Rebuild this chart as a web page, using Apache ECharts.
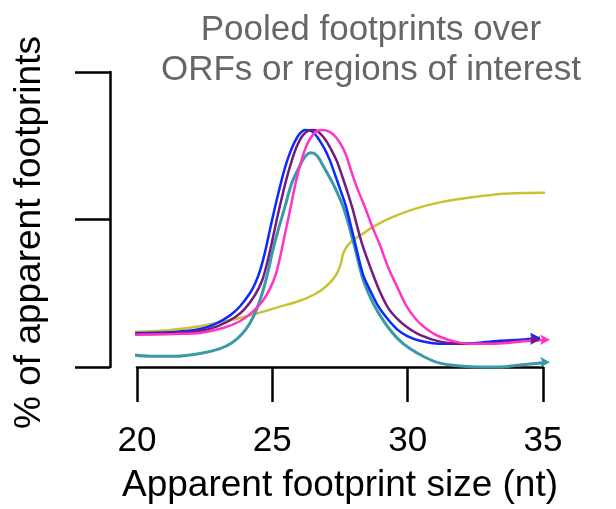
<!DOCTYPE html>
<html>
<head>
<meta charset="utf-8">
<script src="https://cdn.jsdelivr.net/npm/echarts@6/dist/echarts.min.js"></script>
<style>
html,body{margin:0;padding:0;background:#fff;}
#chart{width:616px;height:509px;}
</style>
</head>
<body>
<div id="chart"></div>
<script>
const titleText = "Pooled footprints over\nORFs or regions of interest";
const xAxisName = "Apparent footprint size (nt)";
const yAxisName = "% of apparent footprints";
const xTicks = [20, 25, 30, 35];

const blue = [[19.93,0.231],[21.40,0.238],[22.33,0.257],[22.88,0.290],[23.44,0.350],[23.80,0.410],[24.17,0.500],[24.36,0.565],[24.54,0.650],[24.73,0.779],[24.91,0.930],[25.10,1.085],[25.28,1.221],[25.47,1.353],[25.65,1.452],[25.84,1.531],[26.02,1.584],[26.21,1.607],[26.39,1.604],[26.58,1.578],[26.76,1.531],[26.95,1.472],[27.13,1.399],[27.31,1.307],[27.50,1.208],[27.72,1.089],[28.05,0.845],[28.35,0.627],[28.61,0.521],[28.90,0.416],[29.24,0.330],[29.60,0.257],[29.97,0.211],[30.45,0.178],[31.19,0.158],[31.93,0.158],[32.67,0.165],[33.41,0.178],[34.15,0.185],[34.89,0.198]];
const purple = [[19.93,0.224],[21.40,0.231],[22.33,0.244],[22.99,0.277],[23.62,0.337],[23.99,0.396],[24.36,0.488],[24.62,0.585],[24.80,0.700],[24.99,0.850],[25.17,1.005],[25.36,1.155],[25.54,1.287],[25.73,1.406],[25.91,1.498],[26.10,1.564],[26.28,1.597],[26.46,1.607],[26.65,1.601],[26.83,1.571],[27.02,1.525],[27.20,1.465],[27.39,1.393],[27.57,1.300],[27.76,1.195],[27.94,1.089],[28.31,0.838],[28.72,0.627],[28.98,0.508],[29.27,0.403],[29.60,0.330],[29.97,0.271],[30.45,0.218],[31.19,0.172],[31.93,0.158],[32.67,0.158],[33.41,0.165],[34.15,0.178],[34.89,0.185]];
const pink = [[19.93,0.218],[21.40,0.224],[22.33,0.231],[23.18,0.264],[23.80,0.310],[24.25,0.370],[24.62,0.442],[24.91,0.530],[25.14,0.635],[25.32,0.772],[25.50,0.930],[25.69,1.095],[25.87,1.255],[26.06,1.390],[26.25,1.495],[26.43,1.558],[26.61,1.593],[26.80,1.607],[26.98,1.604],[27.17,1.588],[27.35,1.558],[27.54,1.508],[27.72,1.439],[27.94,1.315],[28.16,1.201],[28.42,1.085],[28.68,0.957],[28.98,0.825],[29.27,0.680],[29.60,0.548],[29.97,0.409],[30.34,0.317],[30.75,0.251],[31.19,0.205],[31.75,0.172],[32.30,0.158],[33.04,0.158],[33.78,0.165],[34.52,0.178],[35.26,0.185]];
const teal = [[19.67,0.086],[20.48,0.073],[21.40,0.073],[22.33,0.092],[23.07,0.125],[23.51,0.165],[23.88,0.224],[24.17,0.297],[24.43,0.396],[24.65,0.515],[24.84,0.647],[25.02,0.792],[25.21,0.924],[25.47,1.089],[25.71,1.243],[26.02,1.366],[26.21,1.426],[26.43,1.452],[26.65,1.432],[26.87,1.366],[27.24,1.243],[27.61,1.089],[27.98,0.858],[28.35,0.595],[28.68,0.449],[28.98,0.350],[29.27,0.271],[29.64,0.191],[30.08,0.125],[30.64,0.066],[31.19,0.026],[31.93,0.007],[32.67,0.000],[33.41,0.000],[34.15,0.013],[35.26,0.033]];
const olive = [[19.93,0.238],[21.22,0.251],[22.33,0.277],[23.44,0.317],[24.43,0.363],[25.28,0.409],[26.02,0.449],[26.58,0.495],[26.95,0.541],[27.24,0.594],[27.42,0.647],[27.54,0.706],[27.61,0.766],[27.76,0.818],[28.01,0.865],[28.35,0.904],[28.72,0.950],[29.35,1.010],[30.20,1.069],[31.19,1.116],[32.04,1.142],[33.52,1.175],[35.15,1.182]];

const FONT = "'Liberation Sans', Arial, Helvetica, sans-serif";

function mkSeries(data, color, width, arrow) {
  const last = data.length - 1;
  return {
    type: 'line',
    data: data,
    smooth: 0.3,
    clip: false,
    showSymbol: arrow,
    symbol: 'arrow',
    symbolRotate: -90,
    symbolSize: function (v, p) { return arrow && p.dataIndex === last ? [8, 10] : 0; },
    itemStyle: { color: color },
    lineStyle: { color: color, width: width },
    emphasis: { disabled: true },
    z: 3
  };
}

const chart = echarts.init(document.getElementById('chart'), null, { renderer: 'canvas' });
chart.setOption({
  animation: false,
  backgroundColor: '#ffffff',
  title: {
    text: titleText,
    left: 371,
    top: 10,
    padding: 0,
    textAlign: 'center',
    textStyle: { fontFamily: FONT, fontSize: 35, fontWeight: 'normal', color: '#666666', lineHeight: 40 }
  },
  grid: { left: 137, right: 73, top: 72, bottom: 134, containLabel: false },
  xAxis: {
    type: 'value',
    min: 20, max: 35, interval: 5,
    name: xAxisName,
    nameLocation: 'middle',
    nameGap: 100,
    nameTextStyle: { fontFamily: FONT, fontSize: 37, color: '#000' },
    axisLine: { show: true, lineStyle: { color: '#000', width: 2.5 } },
    axisTick: { show: true, length: 35, inside: false, lineStyle: { color: '#000', width: 2.5 } },
    axisLabel: { show: true, margin: 57, fontFamily: FONT, fontSize: 35, color: '#000',
      formatter: function (v) { return xTicks.indexOf(v) >= 0 ? String(v) : ''; } },
    splitLine: { show: false }
  },
  yAxis: {
    type: 'value',
    min: 0, max: 2, interval: 1,
    offset: 27,
    name: yAxisName,
    nameLocation: 'middle',
    nameGap: 62,
    nameRotate: 90,
    nameTextStyle: { fontFamily: FONT, fontSize: 37, color: '#000', padding: [0, 26, 0, 0] },
    axisLine: { show: true, lineStyle: { color: '#000', width: 2.5 } },
    axisTick: { show: true, length: 35, inside: false, lineStyle: { color: '#000', width: 2.5 } },
    axisLabel: { show: false },
    splitLine: { show: false }
  },
  series: [
    mkSeries(olive, '#c9c232', 2.5, false),
    mkSeries(teal, '#3b9aa9', 3, true),
    mkSeries(blue, '#0a2aff', 2.5, true),
    mkSeries(purple, '#771a7e', 2.5, true),
    mkSeries(pink, '#ff33c8', 2.5, true)
  ]
});
</script>
</body>
</html>
